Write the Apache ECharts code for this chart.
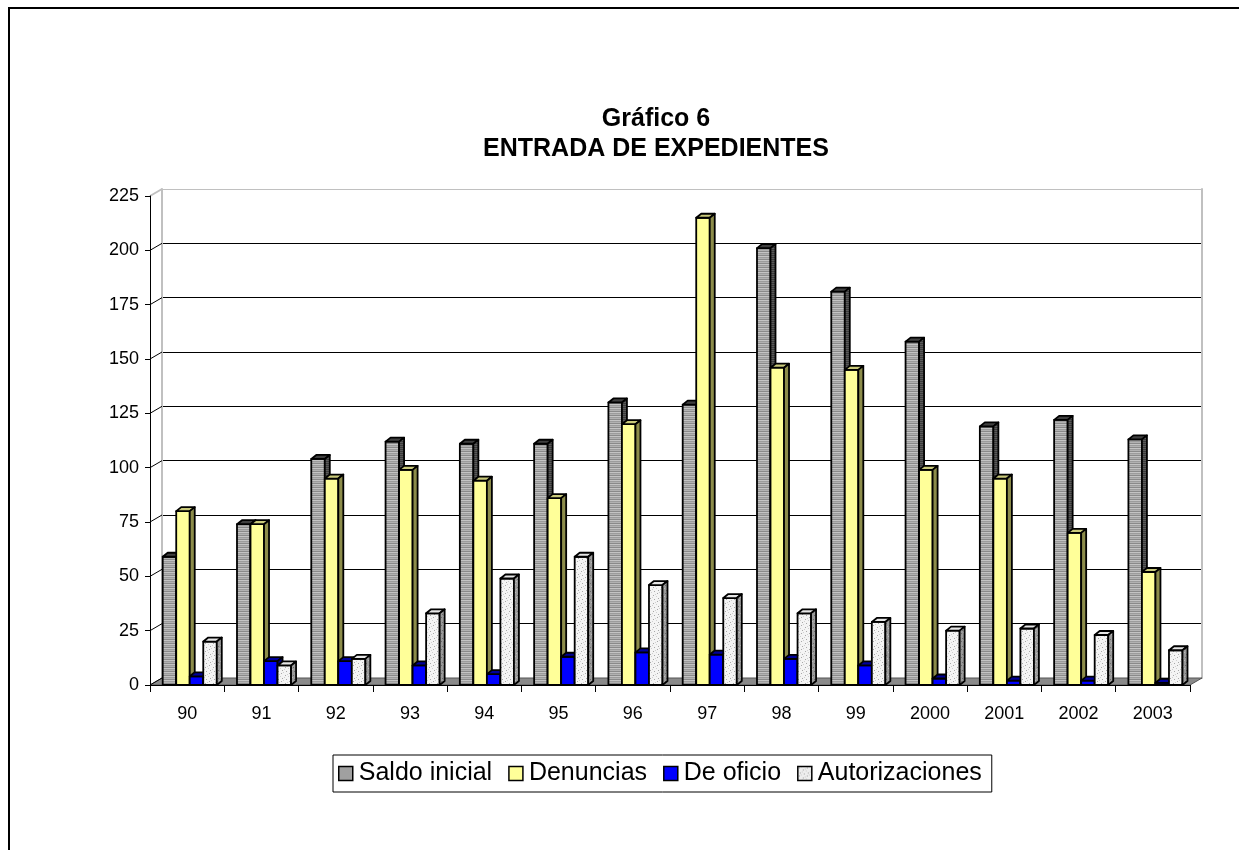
<!DOCTYPE html>
<html><head><meta charset="utf-8">
<script src="https://cdn.jsdelivr.net/npm/echarts/dist/echarts.min.js"></script>
<style>html,body{margin:0;padding:0;background:#fff}#c{width:1239px;height:850px}</style>
</head><body><div id="c"></div>
<script>
const categories = ['90','91','92','93','94','95','96','97','98','99','2000','2001','2002','2003'];
const saldoInicial   = [59, 74, 104, 112, 111, 111, 130, 129, 201, 181, 158, 119, 122, 113];
const denuncias      = [80, 74, 95, 99, 94, 86, 120, 215, 146, 145, 99, 95, 70, 52];
const deOficio       = [4, 11, 11, 9, 5, 13, 15, 14, 12, 9, 3, 2, 2, 1];
const autorizaciones = [20, 9, 12, 33, 49, 59, 46, 40, 33, 29, 25, 26, 23, 16];
const yTicks = [0, 25, 50, 75, 100, 125, 150, 175, 200, 225];
const seriesNames = ['Saldo inicial', 'Denuncias', 'De oficio', 'Autorizaciones'];

const FONT = '"Liberation Sans", Arial, sans-serif';
const FX = 12, FY = 7;      // floor / wall depth
const BX = 5, BY = 4;       // bar depth
const BAR_W = 0.182, BAR_OFF = 0.171;

function pat(w, h, draw) {
  const c = document.createElement('canvas'); c.width = w; c.height = h;
  draw(c.getContext('2d')); return { image: c, repeat: 'repeat' };
}
function stripes(cols) {
  return pat(1, cols.length, g => cols.forEach((col, i) => { g.fillStyle = col; g.fillRect(0, i, 1, 1); }));
}
function dots(bg, dot, dot2) {
  return pat(8, 8, g => {
    g.fillStyle = bg; g.fillRect(0, 0, 8, 8);
    g.fillStyle = dot; [[1,1],[5,3],[2,6],[6,7]].forEach(p => g.fillRect(p[0], p[1], 1, 1));
    g.fillStyle = dot2; [[3,0],[7,2],[0,4],[4,5]].forEach(p => g.fillRect(p[0], p[1], 1, 1));
  });
}
const faces = [
  { front: stripes(['#c4c4c4','#9c9c9c','#b2b2b2','#8a8a8a']), top: '#404040', side: stripes(['#5a5a5a','#3a3a3a']), legend: '#a0a0a0' },
  { front: '#ffff99', top: '#c9c97a', side: '#8c8c4a', legend: '#ffff99' },
  { front: '#0000ff', top: '#00009a', side: '#00007a', legend: '#0000ff' },
  { front: dots('#f4f4f4', '#a8a8a8', '#d0d0d0'), top: '#e6e6e6', side: dots('#9a9a9a', '#6a6a6a', '#bcbcbc'), legend: dots('#eeeeee', '#a0a0a0', '#cccccc') }
];
const values = [saldoInicial, denuncias, deOficio, autorizaciones];

function barRender(k) {
  const f = faces[k];
  return function (params, api) {
    const ci = api.value(0), v = api.value(1);
    const band = api.size([1, 0])[0];
    const c = api.coord([ci, 0]), t = api.coord([ci, v]);
    const w = band * BAR_W;
    const x0 = c[0] - band / 2 + band * BAR_OFF + k * w, x1 = x0 + w;
    const y0 = c[1], y1 = t[1];
    const ls = { stroke: '#000', lineWidth: 1.8, lineJoin: 'round' };
    return { type: 'group', children: [
      { type: 'polygon', shape: { points: [[x0,y0],[x0,y1],[x1,y1],[x1,y0]] }, style: Object.assign({ fill: f.front }, ls) },
      { type: 'polygon', shape: { points: [[x0,y1],[x0+BX,y1-BY],[x1+BX,y1-BY],[x1,y1]] }, style: Object.assign({ fill: f.top }, ls) },
      { type: 'polygon', shape: { points: [[x1,y1],[x1+BX,y1-BY],[x1+BX,y0-BY],[x1,y0]] }, style: Object.assign({ fill: f.side }, ls) }
    ]};
  };
}

function floorRender(params, api) {
  const band = api.size([1, 0])[0];
  const xl = api.coord([0, 0])[0] - band / 2;
  const xr = api.coord([categories.length - 1, 0])[0] + band / 2;
  const y0 = api.coord([0, 0])[1];
  const children = [
    { type: 'polygon', shape: { points: [[xl,y0],[xr,y0],[xr+FX,y0-FY],[xl+FX,y0-FY]] }, style: { fill: '#8a8a8a', stroke: '#555', lineWidth: 1 } }
  ];
  yTicks.forEach((tv, i) => {
    const y = api.coord([0, tv])[1];
    children.push({ type: 'line', shape: { x1: xl, y1: y, x2: xl + FX, y2: y - FY },
      style: { stroke: i === yTicks.length - 1 ? '#c0c0c0' : '#000', lineWidth: i === yTicks.length - 1 ? 2 : 1 } });
  });
  return { type: 'group', children };
}

const splitColors = yTicks.map((t, i) => i === yTicks.length - 1 ? '#c0c0c0' : (i === 0 ? '#8a8a8a' : '#000'));

const chart = echarts.init(document.getElementById('c'));
chart.setOption({
  animation: false,
  backgroundColor: '#fff',
  textStyle: { fontFamily: FONT },
  title: {
    text: 'Gráfico 6\nENTRADA DE EXPEDIENTES',
    left: 651, top: 99, textAlign: 'center',
    textStyle: { fontFamily: FONT, fontSize: 25, fontWeight: 'bold', color: '#000', lineHeight: 30 }
  },
  graphic: [{ type: 'rect', shape: { x: 9, y: 8, width: 1300, height: 900 }, style: { fill: null, stroke: '#000', lineWidth: 2 }, z: 100 }],
  legend: {
    left: 333, top: 755,
    borderColor: '#000', borderWidth: 1, padding: [6, 10, 6, 5],
    itemGap: 16, itemWidth: 14, itemHeight: 14,
    textStyle: { fontFamily: FONT, fontSize: 25, color: '#000', padding: [0, 0, 0, 1] },
    data: seriesNames.map((n, k) => ({ name: n, icon: 'rect', itemStyle: { color: faces[k].legend, borderColor: '#000', borderWidth: 1.5 } }))
  },
  grid: [
    { left: 150, right: 49, top: 196, bottom: 165 },
    { left: 162, right: 37, top: 189, bottom: 172 }
  ],
  xAxis: [
    { gridIndex: 0, type: 'category', data: categories, z: 5,
      axisLine: { lineStyle: { color: '#000', width: 1 } },
      axisTick: { show: true, length: 7, interval: 0, lineStyle: { color: '#000' } },
      axisLabel: { margin: 20, fontSize: 18, color: '#000', fontFamily: FONT, interval: 0 } },
    { gridIndex: 1, type: 'category', data: categories, show: false }
  ],
  yAxis: [
    { gridIndex: 0, type: 'value', min: 0, max: 225, interval: 25, z: 5,
      axisLine: { show: true, lineStyle: { color: '#000', width: 1 } },
      axisTick: { show: true, length: 5, lineStyle: { color: '#000' } },
      axisLabel: { margin: 11, fontSize: 18, color: '#000', fontFamily: FONT },
      splitLine: { show: false } },
    { gridIndex: 1, type: 'value', min: 0, max: 225, interval: 25,
      axisLine: { show: true, lineStyle: { color: '#c0c0c0', width: 2 } },
      axisTick: { show: false }, axisLabel: { show: false },
      splitLine: { show: true, lineStyle: { color: splitColors, width: 1 } } },
    { gridIndex: 1, type: 'value', position: 'right', min: 0, max: 225, interval: 25,
      axisLine: { show: true, lineStyle: { color: '#c0c0c0', width: 2 } },
      axisTick: { show: false }, axisLabel: { show: false }, splitLine: { show: false } }
  ],
  series: [
    { type: 'custom', name: '_floor', xAxisIndex: 0, yAxisIndex: 0, z: 1, silent: true,
      data: [[0, 0]], renderItem: floorRender }
  ].concat(seriesNames.map((n, k) => ({
    type: 'custom', name: n, xAxisIndex: 0, yAxisIndex: 0, z: 2,
    itemStyle: { color: faces[k].legend, borderColor: '#000' },
    encode: { x: 0, y: 1 },
    data: categories.map((c, i) => [i, values[k][i]]),
    renderItem: barRender(k)
  })))
});
</script>
</body></html>
